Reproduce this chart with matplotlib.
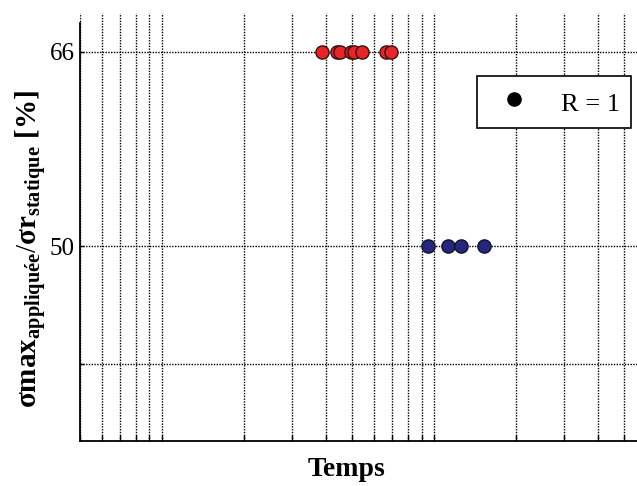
import matplotlib
matplotlib.use("Agg")
import matplotlib.pyplot as plt
from matplotlib.lines import Line2D
from matplotlib.ticker import LogLocator, NullFormatter

plt.rcParams['font.family'] = 'Liberation Serif'
plt.rcParams['mathtext.fontset'] = 'custom'
plt.rcParams['mathtext.rm'] = 'Liberation Serif'
plt.rcParams['mathtext.bf'] = 'Liberation Serif:bold'
plt.rcParams['mathtext.it'] = 'Liberation Serif:italic'

# temps (échelle log), niveaux de contrainte
temps_66 = [38.7, 44.0, 45.1, 49.5, 50.8, 54.4, 66.6, 69.5]
niveau_66 = [66] * len(temps_66)
temps_50 = [95.0, 112.6, 125.6, 152.7]
niveau_50 = [50] * len(temps_50)

yticks = [40.3, 50, 66]
ytick_labels = ['', '50', '66']

fig = plt.figure(figsize=(6.37, 4.86), dpi=100)
ax = fig.add_axes([80/637, 1 - 441/486, 1 - 80/637, (441 - 13)/486])

ax.plot(temps_66, niveau_66, 'o', ms=9.5, mfc='#e62528', mec='#3a1010', mew=1, zorder=3)
ax.plot(temps_50, niveau_50, 'o', ms=9.5, mfc='#26277a', mec='#101030', mew=1, zorder=3)

ax.set_xscale('log')
ax.set_xlim(5, 557)
ax.set_ylim(33.96, 69.2)
ax.xaxis.set_major_locator(LogLocator(base=10, subs=(1.0,)))
ax.xaxis.set_minor_locator(LogLocator(base=10, subs=range(2, 10)))
ax.xaxis.set_major_formatter(NullFormatter())
ax.xaxis.set_minor_formatter(NullFormatter())
ax.set_yticks(yticks)
ax.set_yticklabels(ytick_labels, fontsize=18)

ax.grid(True, which='both', axis='x', color='black', linestyle=(0, (1, 1)), lw=1)
ax.grid(True, which='major', axis='y', color='black', linestyle=(0, (1, 1)), lw=1)
ax.tick_params(axis='both', which='both', direction='in', length=3, width=1, pad=4)
ax.tick_params(axis='x', which='both', length=4)

for s in ['top', 'right']:
    ax.spines[s].set_visible(False)
for s in ['left', 'bottom']:
    ax.spines[s].set_linewidth(1.3)
ax.spines['left'].set_bounds(33.96, 68.4)

ax.set_xlabel('Temps', fontsize=20, fontweight='bold')
ax.xaxis.set_label_coords(0.479, -0.038)
ax.set_ylabel(r'$\mathbf{\sigma max}_{\mathbf{appliquée}}/\mathbf{\sigma r}_{\mathbf{statique}}$ [%]',
              fontsize=21, fontweight='bold')
ax.yaxis.set_label_coords(-0.056, 0.449)

handle = Line2D([], [], marker='o', ls='none', color='black', ms=9.5)
leg = ax.legend([handle], ['R = 1'], loc='upper left',
                bbox_to_anchor=(477/637, 1 - 76/486), bbox_transform=fig.transFigure,
                fontsize=19, fancybox=False, framealpha=1, borderaxespad=0,
                borderpad=0.4, handleheight=1.4)
leg.get_frame().set_edgecolor('black')
leg.get_frame().set_linewidth(1.2)

fig.savefig('out.png', dpi=100)
